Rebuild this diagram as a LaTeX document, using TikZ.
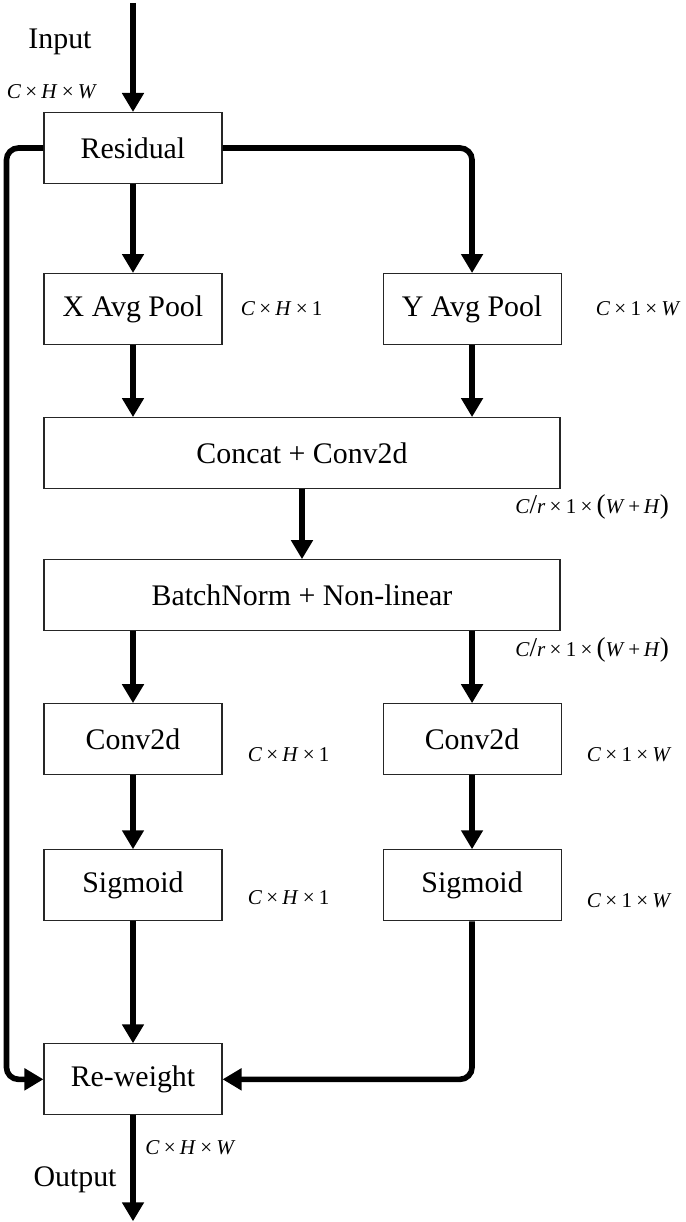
\documentclass[tikz,border=0pt]{standalone}
\usepackage{fontspec}
\usepackage{tikz}
\setmainfont{Liberation Serif}
\usetikzlibrary{positioning,arrows.meta}

\newcommand{\tms}{\hspace{0.2em}×\hspace{0.2em}}
\newcommand{\bigsym}[1]{{\fontsize{15.5}{15}\selectfont #1}}

\begin{document}
\begin{tikzpicture}[
    node distance=1.5cm and 3.2cm,
    box/.style={draw=black!85, line width=0.6pt, minimum width=3.56cm, minimum height=1.42cm,
                inner sep=0pt, font=\fontsize{17}{20}\selectfont, align=center},
    wbox/.style={box, minimum width=10.32cm},
    arrow/.style={-{Triangle[length=0.38cm, width=0.42cm]}, line width=3.2pt, rounded corners=0.24cm},
    dim/.style={font=\fontsize{12}{13}\selectfont, inner sep=0pt},
    txt/.style={font=\fontsize{17}{20}\selectfont, inner sep=0pt},
  ]
  \useasboundingbox (0,0) rectangle (13.7,-24.44);

  % Input
  \node[box] (res) at (2.66,-2.96) {Residual};
  \coordinate[above=2.18cm of res.north] (in);

  % Pooling layer
  \node[box, below=1.78cm of res] (xpool) {X Avg Pool};
  \node[box, right=of xpool] (ypool) {Y Avg Pool};

  % Shared layers
  \node[wbox, below=1.44cm of xpool.south west, anchor=north west] (concat) {Concat + Conv2d};
  \node[wbox, below=1.4cm of concat] (bn) {BatchNorm + Non-linear};

  % Split branches
  \node[box, below=1.44cm of bn.south west, anchor=north west] (convx) {Conv2d};
  \node[box, right=of convx] (convy) {Conv2d};
  \node[box, below=1.48cm of convx] (sigx) {Sigmoid};
  \node[box, right=of sigx] (sigy) {Sigmoid};

  % Output
  \node[box, below=2.44cm of sigx] (rw) {Re-weight};
  \coordinate[below=2.12cm of rw.south] (out);
  \coordinate[left=0.74cm of res.west] (skip);

  % Arrows
  \draw[arrow] (in) -- (res);
  \draw[arrow] (res) -- (xpool);
  \draw[arrow] (res.east) -| (ypool.north);
  \draw[arrow] (xpool.south) -- (xpool.south |- concat.north);
  \draw[arrow] (ypool.south) -- (ypool.south |- concat.north);
  \draw[arrow] (concat) -- (bn);
  \draw[arrow] (convx.north |- bn.south) -- (convx.north);
  \draw[arrow] (convy.north |- bn.south) -- (convy.north);
  \draw[arrow] (convx) -- (sigx);
  \draw[arrow] (convy) -- (sigy);
  \draw[arrow] (sigx) -- (rw);
  \draw[arrow] (sigy.south) |- (rw.east);
  \draw[arrow] (res.west) -- (skip) |- (rw.west);
  \draw[arrow] (rw) -- (out);

  % Labels
  \node[txt] (inlbl) at (1.2,-0.84) {Input};
  \node[dim] (indim) at (1.04,-1.84) {\textit{C}\tms\textit{H}\tms\textit{W}};
  \node[dim, right=0.36cm of xpool] (xdim) {\textit{C}\tms\textit{H}\tms1};
  \node[dim, right=0.68cm of ypool] (ydim) {\textit{C}\tms1\tms\textit{W}};
  \node[dim, anchor=west] (cdim) at (10.3,-10.13)
    {\textit{C}\bigsym{/}\textit{r}\tms1\tms\bigsym{(}\textit{W}\,+\,\textit{H}\bigsym{)}};
  \node[dim, anchor=west] (bdim) at (10.3,-13.0)
    {\textit{C}\bigsym{/}\textit{r}\tms1\tms\bigsym{(}\textit{W}\,+\,\textit{H}\bigsym{)}};
  \node[dim, right=0.5cm of convx, yshift=-0.3cm] (cxdim) {\textit{C}\tms\textit{H}\tms1};
  \node[dim, right=0.5cm of convy, yshift=-0.3cm] (cydim) {\textit{C}\tms1\tms\textit{W}};
  \node[dim, right=0.5cm of sigx, yshift=-0.24cm] (sxdim) {\textit{C}\tms\textit{H}\tms1};
  \node[dim, right=0.5cm of sigy, yshift=-0.3cm] (sydim) {\textit{C}\tms1\tms\textit{W}};
  \node[dim, anchor=west] (outdim) at (2.9,-22.96) {\textit{C}\tms\textit{H}\tms\textit{W}};
  \node[txt] (outlbl) at (1.5,-23.6) {Output};

\end{tikzpicture}
\end{document}
